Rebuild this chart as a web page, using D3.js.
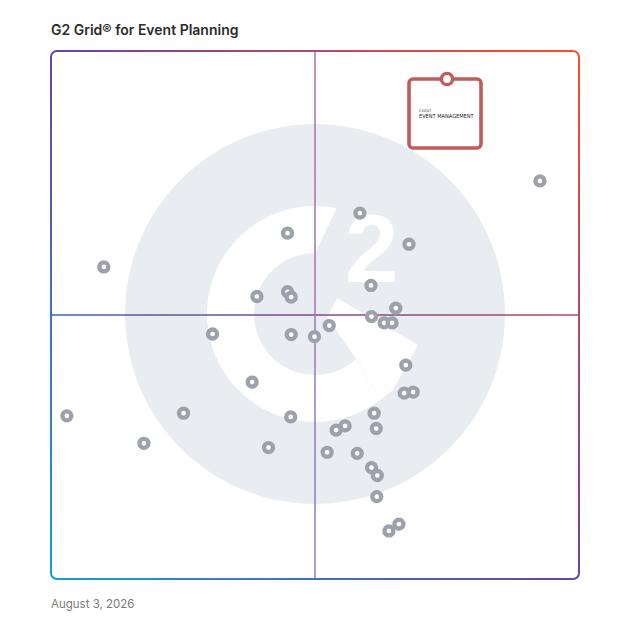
<!DOCTYPE html>
<html>
<head>
<meta charset="utf-8">
<script src="https://cdn.jsdelivr.net/npm/d3@7"></script>
<style>
  body { margin: 0; background: #fff; }
  svg { display: block; }
</style>
</head>
<body>
<div id="grid"></div>
<script>
const title = "G2 Grid® for Event Planning";
const dateLabel = "August 3, 2026";

// market presence (x) and satisfaction (y), 0-100
const presence = [92.6, 58.5, 44.8, 67.8, 10.0, 60.6, 39.0, 44.8, 45.5, 65.3,
  60.7, 63.1, 64.6, 52.7, 30.6, 45.5, 49.9, 67.2, 38.1, 66.9,
  68.6, 3.0, 25.1, 61.2, 45.4, 55.7, 54.0, 61.6, 17.6, 41.2,
  52.3, 58.0, 60.7, 61.8, 61.7, 65.9, 64.0];
const satisfaction = [75.4, 69.3, 65.5, 63.4, 59.1, 55.6, 53.5, 54.4, 53.4, 51.3,
  49.7, 48.5, 48.5, 48.0, 46.4, 46.3, 45.9, 40.5, 37.3, 35.2,
  35.4, 30.9, 31.4, 31.4, 30.7, 29.0, 28.2, 28.5, 25.7, 24.9,
  24.0, 23.8, 21.1, 19.6, 15.6, 10.4, 9.1];

const leaderPresence = 75.0;
const leaderSatisfaction = 94.7;
const leaderLabel = ["CVENT", "EVENT MANAGEMENT"];

const width = 628, height = 628;
const x0 = 51, x1 = 579, y0 = 51, y1 = 579;

const svg = d3.select("#grid").append("svg")
  .attr("width", width)
  .attr("height", height);

const x = d3.scaleLinear().domain([0, 100]).range([x0, x1]);
const y = d3.scaleLinear().domain([0, 100]).range([y1, y0]);

const defs = svg.append("defs");

const border = defs.append("linearGradient").attr("id", "border")
  .attr("gradientUnits", "userSpaceOnUse")
  .attr("x1", x0).attr("y1", y1).attr("x2", x1).attr("y2", y0);
border.append("stop").attr("offset", 0).attr("stop-color", "#129fdc");
border.append("stop").attr("offset", 0.5).attr("stop-color", "#6a42a8");
border.append("stop").attr("offset", 1).attr("stop-color", "#ff4e26");

const hGrad = defs.append("linearGradient").attr("id", "hline")
  .attr("gradientUnits", "userSpaceOnUse")
  .attr("x1", x0).attr("y1", 0).attr("x2", x1).attr("y2", 0);
hGrad.append("stop").attr("offset", 0).attr("stop-color", "#3e62b2");
hGrad.append("stop").attr("offset", 0.5).attr("stop-color", "#7c4a8e");
hGrad.append("stop").attr("offset", 1).attr("stop-color", "#bb4560");

const vGrad = defs.append("linearGradient").attr("id", "vline")
  .attr("gradientUnits", "userSpaceOnUse")
  .attr("x1", 0).attr("y1", y0).attr("x2", 0).attr("y2", y1);
vGrad.append("stop").attr("offset", 0).attr("stop-color", "#ad6fa6");
vGrad.append("stop").attr("offset", 0.5).attr("stop-color", "#9a78b6");
vGrad.append("stop").attr("offset", 1).attr("stop-color", "#8a80cc");

// title
svg.append("text")
  .attr("x", x0).attr("y", 35)
  .attr("font-family", "Inter, 'Noto Sans', sans-serif")
  .attr("font-size", "14px").attr("font-weight", 600)
  .attr("fill", "#2c2c2c")
  .text(title);

// background G2 logo
const cx = x(50), cy = y(50) - 1;
const logo = svg.append("g").attr("transform", `translate(${cx},${cy})`);
logo.append("circle").attr("r", 190).attr("fill", "#e9ecf0");

const rad = a => a * Math.PI / 180;
const pt = (r, a) => [r * Math.cos(rad(a)), r * Math.sin(rad(a))];
const R = 108, r = 61;
const oA = pt(R, -78.4), oB = pt(R, 52.9), iB = pt(r, 47.8), iA = pt(r, -90);
logo.append("path")
  .attr("fill", "#fff")
  .attr("d", `M${oA}A${R},${R} 0 1 0 ${oB}L${iB}A${r},${r} 0 1 1 ${iA}Z`);

logo.append("path")
  .attr("fill", "#fff")
  .attr("d", d3.line()([[22, -16], [103, 31], [78, 76], [65, 86], [42, 46], [12, 3]]) + "Z");

logo.append("text")
  .attr("x", 30).attr("y", -32)
  .attr("font-family", "'Liberation Sans', Arial, sans-serif")
  .attr("font-size", "96px").attr("font-weight", 700)
  .attr("fill", "#fff")
  .text("2");

// quadrant lines
svg.append("line")
  .attr("x1", x0).attr("x2", x1).attr("y1", y(50)).attr("y2", y(50))
  .attr("stroke", "url(#hline)").attr("stroke-width", 1.5);
svg.append("line")
  .attr("x1", x(50)).attr("x2", x(50)).attr("y1", y0).attr("y2", y1 + 0.01)
  .attr("stroke", "url(#vline)").attr("stroke-width", 1.5);

// frame
svg.append("rect")
  .attr("x", x0).attr("y", y0)
  .attr("width", x1 - x0).attr("height", y1 - y0)
  .attr("rx", 6)
  .attr("fill", "none")
  .attr("stroke", "url(#border)").attr("stroke-width", 2);

// products
svg.append("g").selectAll("circle")
  .data(presence.map((p, i) => [p, satisfaction[i]]))
  .join("circle")
  .attr("cx", d => x(d[0]))
  .attr("cy", d => y(d[1]))
  .attr("r", 4.5)
  .attr("fill", "#fff")
  .attr("stroke", "#9da1ac")
  .attr("stroke-width", 4.3);

// highlighted product with its label card
const lx = x(leaderPresence), ly = y(leaderSatisfaction);
const card = svg.append("g").attr("transform", `translate(${lx - 2},${ly})`);
card.append("rect")
  .attr("x", -36).attr("y", 0)
  .attr("width", 72).attr("height", 69)
  .attr("rx", 4)
  .attr("fill", "#fff")
  .attr("stroke", "#c25b5c").attr("stroke-width", 3.6);
card.append("text")
  .attr("x", -26).attr("y", 33)
  .attr("font-family", "'DejaVu Sans', sans-serif")
  .attr("font-size", "3.6px")
  .attr("fill", "#444")
  .text(leaderLabel[0]);
card.append("text")
  .attr("x", -26).attr("y", 39.5)
  .attr("font-family", "'DejaVu Sans Condensed', 'DejaVu Sans', sans-serif")
  .attr("font-size", "5.6px")
  .attr("fill", "#222")
  .text(leaderLabel[1]);

svg.append("circle")
  .attr("cx", lx).attr("cy", ly)
  .attr("r", 5.6)
  .attr("fill", "#fff")
  .attr("stroke", "#c25b5c").attr("stroke-width", 3.4);

// date
svg.append("text")
  .attr("x", x0).attr("y", 608)
  .attr("font-family", "Inter, 'Noto Sans', sans-serif")
  .attr("font-size", "11.5px")
  .attr("fill", "#7a7a7a")
  .text(dateLabel);
</script>
</body>
</html>
